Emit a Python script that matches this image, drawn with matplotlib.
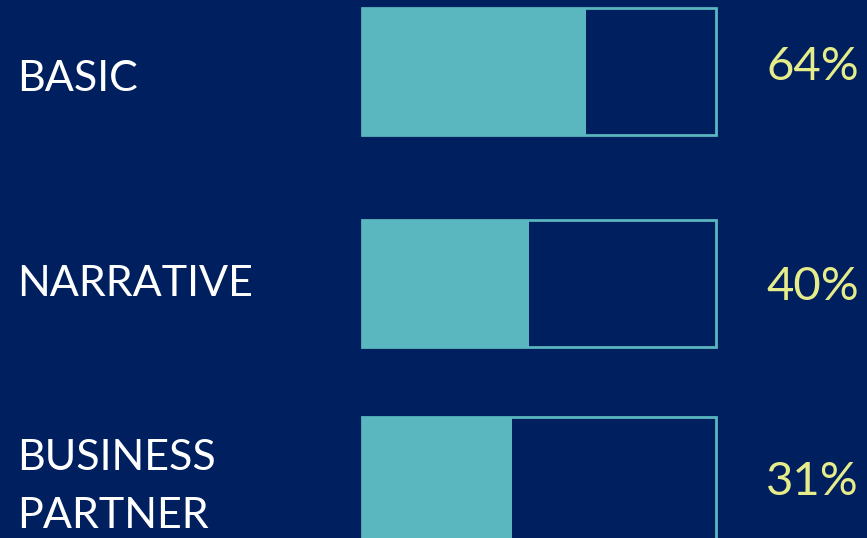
import matplotlib
matplotlib.use("Agg")
import matplotlib.pyplot as plt

# data
labels = ["BASIC", "NARRATIVE", "BUSINESS\nPARTNER"]
pct_labels = ["64%", "40%", "31%"]
fill_share = [63.3, 47.2, 42.4]   # filled part of each bar, % of its width

bg = "#001F5F"
teal = "#5AB6BF"
yellow = "#E6EC8A"

plt.rcParams["font.family"] = ["Lato", "DejaVu Sans"]

fig = plt.figure(figsize=(8.67, 5.38), dpi=100, facecolor=bg)
ax = fig.add_axes([0, 0, 1, 1])
ax.set_facecolor(bg)

# x: 0..100 spans the bar track; y in pixel rows from the top
bar_left, bar_w = 362, 354
ax.set_xlim(-bar_left / bar_w * 100, (867 - bar_left) / bar_w * 100)
ax.set_ylim(538, 0)
ax.axis("off")

bar_y = [71, 283, 480]
bar_h = 127
label_y = [79, 283.5, 487]
pct_y = [67, 287, 482]

for i in range(len(labels)):
    ax.barh(bar_y[i], 100, height=bar_h, left=0, color=bg,
            edgecolor=teal, linewidth=2, zorder=1)
    ax.barh(bar_y[i], fill_share[i], height=bar_h, left=0, color=teal,
            edgecolor="none", zorder=2)
    ax.text(-bar_left / bar_w * 100 + 17 / bar_w * 100, label_y[i], labels[i],
            color="white", fontsize=31, ha="left", va="center",
            linespacing=1.67)
    ax.text((859 - bar_left) / bar_w * 100, pct_y[i], pct_labels[i],
            color=yellow, fontsize=34, ha="right", va="center")

fig.savefig("out.png", dpi=100, facecolor=bg)
